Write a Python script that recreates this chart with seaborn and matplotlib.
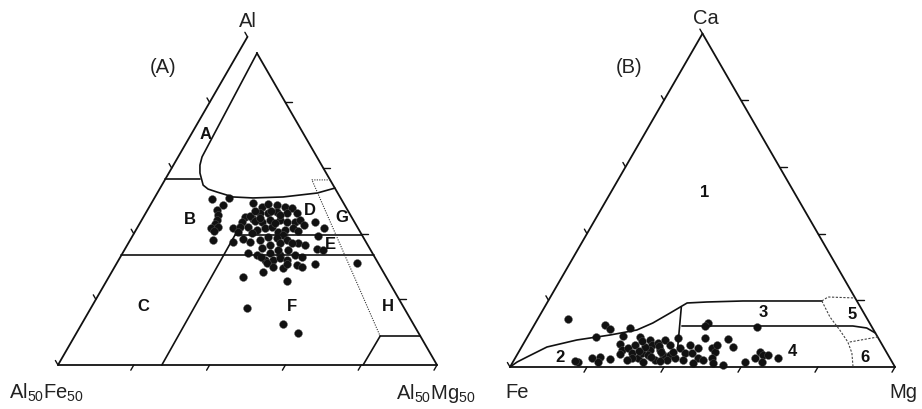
import numpy as np
import matplotlib
matplotlib.use("Agg")
import matplotlib.pyplot as plt
import seaborn as sns
import pandas as pd

sns.set_theme(style="white")
plt.rcParams["font.family"] = ["Liberation Sans", "DejaVu Sans"]
plt.rcParams["mathtext.default"] = "regular"

INK = "#111111"
S3 = np.sqrt(3) / 2

# ---------------------------------------------------------------------------
# Panel (A): Al - Al50Fe50 - Al50Mg50 sub-triangle.
# Values are percentages of the plotted triangle: top (Al) and right (Mg) share.
# ---------------------------------------------------------------------------
a_al = [50.6, 50.9, 48.8, 47.2, 45.7, 44.2, 43.0, 41.7, 42.0, 40.8, 38.1,
        49.4, 48.1, 49.1, 48.8, 48.1, 47.8, 46.3, 46.3, 46.6, 46.3, 46.3,
        45.1, 44.5, 43.6, 44.2, 44.2, 43.6, 43.6, 44.2, 43.6, 43.6, 41.7,
        42.0, 42.0, 41.1, 41.7, 42.0, 40.5, 41.1, 41.7, 41.7, 40.5, 40.2,
        39.6, 38.7, 38.1, 37.2, 36.6, 39.3, 37.5, 37.5, 38.1, 36.6, 37.2,
        35.6, 35.0, 35.3, 35.0, 34.1, 33.5, 34.1, 33.5, 33.5, 32.9, 32.0,
        32.0, 32.6, 32.0, 30.5, 29.9, 30.8, 31.1, 29.9, 28.3, 31.1, 26.8,
        25.6, 17.4, 12.5, 9.8,
        45.7, 45.4, 43.9, 43.3, 40.8, 37.2, 29.6, 47.0, 39.0, 35.0, 30.8,
        42.8, 46.9, 44.8, 38.5, 33.0]
a_mg = [15.3, 19.6, 19.1, 18.4, 19.3, 19.9, 19.9, 19.5, 21.2, 20.8, 21.8,
        26.8, 29.7, 30.8, 33.4, 35.8, 37.9, 30.1, 32.2, 34.5, 37.2, 39.9,
        26.7, 29.2, 32.0, 33.8, 36.5, 38.6, 40.7, 41.8, 46.0, 26.8, 25.3,
        27.0, 29.1, 31.9, 33.7, 35.5, 37.8, 39.3, 41.1, 49.3, 27.2, 31.1,
        39.6, 38.4, 41.3, 44.7, 46.9, 48.9, 27.4, 31.9, 34.2, 37.6, 40.0,
        36.0, 43.2, 50.7, 52.4, 33.0, 35.7, 38.8, 41.8, 45.7, 47.9, 38.6,
        40.7, 42.3, 44.4, 47.8, 49.4, 52.4, 39.6, 41.7, 39.9, 63.3, 35.4,
        47.6, 41.2, 53.1, 58.4,
        35.7, 28.0, 30.0, 35.6, 42.9, 43.2, 44.6, 32.8, 36.0, 40.5, 45.0,
        43.5, 28.5, 31.0, 29.5, 37.0]

# field boundaries of panel (A), as (Al, Mg) pairs
a_bound_curve = [(95.1, 5.0), (63.4, 6.3), (60.9, 7.0), (58.5, 8.2), (54.8, 10.9),
                 (53.6, 12.8), (52.7, 15.6), (51.2, 20.6), (50.9, 26.0),
                 (51.2, 33.8), (52.4, 42.2), (53.9, 46.1)]
a_bound_ab = [(56.7, 0.0), (56.7, 9.0)]
a_bound_bc = [(33.5, 0.0), (33.5, 66.5)]
a_bound_de = [(39.6, 26.9), (39.6, 60.4)]
a_bound_cf = [(0.0, 27.4), (39.6, 26.9)]
a_bound_h = [(8.8, 80.6), (8.8, 91.2)]
a_bound_h2 = [(0.0, 80.5), (8.8, 80.6)]
a_bound_dotted = [(56.4, 43.6), (56.4, 38.8), (8.8, 80.6)]

a_labels = ["A", "B", "C", "D", "E", "F", "G", "H"]
a_label_al = [70.1, 44.2, 17.7, 47.2, 36.6, 17.7, 44.8, 17.7]
a_label_mg = [3.8, 12.7, 13.6, 42.9, 53.5, 53.0, 52.5, 78.3]

# ---------------------------------------------------------------------------
# Panel (B): Ca - Fe - Mg.  Values: Ca (top) and Mg (right) percentages.
# ---------------------------------------------------------------------------
b_ca = [14.4, 12.6, 11.4, 11.7, 9.0, 9.3, 9.0, 1.5, 2.7, 3.0, 1.5, 2.4, 6.9,
        5.1, 3.9, 5.7, 4.2, 6.6, 2.7, 2.7, 4.2, 8.1, 6.6, 5.1, 3.6, 2.1, 7.2,
        5.1, 3.6, 8.1, 6.6, 3.6, 2.7, 4.5, 5.7, 8.7, 4.2, 2.1, 1.5, 2.1, 1.8,
        13.2, 12.3, 12.0, 8.7, 8.4, 6.0, 6.6, 2.1, 4.2, 5.7, 2.7, 2.1, 5.7,
        4.5, 6.6, 2.7, 1.2, 0.6, 1.5, 2.7, 4.5, 3.6, 3.6, 1.5, 2.7, 1.2, 6.0,
        4.8, 6.3, 3.0, 7.8, 1.8, 4.5]
b_mg = [7.9, 18.4, 20.3, 25.3, 17.8, 24.6, 29.3, 16.9, 19.9, 21.9, 22.1, 24.8,
        25.1, 26.5, 26.6, 27.7, 29.6, 29.2, 31.8, 30.3, 32.2, 32.3, 33.6, 33.8,
        34.0, 36.6, 34.8, 36.4, 37.9, 36.2, 38.3, 39.8, 41.5, 40.0, 41.2, 39.2,
        43.3, 39.7, 33.7, 29.3, 16.0, 44.8, 44.4, 58.1, 46.2, 52.4, 54.9, 43.4,
        43.8, 45.2, 45.9, 47.4, 49.0, 49.6, 50.9, 50.5, 51.1, 52.1, 55.0, 60.2,
        62.2, 62.6, 63.9, 65.2, 64.6, 68.2, 46.9, 32.1,
        31.0, 35.5, 35.2, 30.5, 38.0, 37.0]

# field boundaries of panel (B), as (Ca, Mg) pairs
b_bound_upper = [(0.0, 0.0), (1.5, 1.1), (3.0, 2.9), (6.0, 6.6), (8.1, 13.3),
                 (9.6, 21.2), (11.1, 27.4), (13.2, 30.5), (16.2, 33.5),
                 (19.2, 36.4), (19.5, 41.4), (19.8, 50.6), (19.8, 71.1)]
b_bound_34 = [(12.3, 38.5), (12.3, 82.9), (11.7, 86.8), (10.2, 89.8)]
b_bound_24 = [(18.0, 35.5), (5.7, 40.7)]
b_bound_5top = [(19.8, 71.1), (21.0, 72.1), (20.7, 79.3)]
b_bound_5left = [(19.8, 71.1), (15.0, 75.6), (11.1, 80.1), (7.5, 84.0),
                 (4.2, 86.7), (0.0, 89.1)]
b_bound_56 = [(7.5, 84.5), (9.0, 91.0)]

b_labels = ["1", "2", "3", "4", "5", "6"]
b_label_ca = [52.2, 2.7, 16.2, 4.5, 15.6, 2.7]
b_label_mg = [24.5, 11.6, 57.6, 71.2, 81.0, 90.8]

tick_levels = [20, 40, 60, 80]


def tern(top, right):
    top = np.asarray(top, float) / 100.0
    right = np.asarray(right, float) / 100.0
    return right + top / 2.0, top * S3


def draw_path(ax, pairs, **kw):
    t, r = zip(*pairs)
    x, y = tern(t, r)
    style = dict(color=INK, lw=1.2, solid_capstyle="round", clip_on=False)
    style.update(kw)
    ax.plot(x, y, **style)


def draw_ticks(ax, width_px, left_levels, right_levels, bottom_levels):
    u = 1.0 / width_px
    for k in left_levels:
        x, y = tern(k, 0)
        ax.plot([x, x - 2.6 * u], [y, y + 4.5 * u], color=INK, lw=1.0, clip_on=False)
    for k in right_levels:
        x, y = tern(k, 100 - k)
        ax.plot([x, x + 7 * u], [y, y], color=INK, lw=1.0, clip_on=False)
    for k in bottom_levels:
        x, y = tern(0, k)
        ax.plot([x, x - 3 * u], [y, y - 5.2 * u], color=INK, lw=1.0, clip_on=False)


def setup(ax):
    ax.set_xlim(0, 1)
    ax.set_ylim(0, S3)
    ax.set_axis_off()


fig = plt.figure(figsize=(9.22, 4.09), dpi=100)
W, H = 922.0, 409.0

# ---------------------------- panel (A) -------------------------------------
axA = fig.add_axes([58 / W, 44 / H, 379 / W, 328.2 / H])
setup(axA)
draw_path(axA, [(0, 0), (100, 0)], lw=1.3)                 # left edge
draw_path(axA, [(95.1, 4.9), (0, 100)], lw=1.3)            # right edge
draw_path(axA, [(0, 0), (0, 100)], lw=1.3)                 # base
draw_path(axA, a_bound_curve)
draw_path(axA, a_bound_ab)
draw_path(axA, a_bound_bc)
draw_path(axA, a_bound_de)
draw_path(axA, a_bound_cf)
draw_path(axA, a_bound_h)
draw_path(axA, a_bound_h2)
draw_path(axA, a_bound_dotted, lw=0.8, linestyle=(0, (1.0, 1.2)), color="#333333")
draw_ticks(axA, 379, [0] + tick_levels + [100], tick_levels, tick_levels + [100])

xa, ya = tern(a_al, a_mg)
sns.scatterplot(data=pd.DataFrame({"x": xa, "y": ya}), x="x", y="y", ax=axA,
                s=32, color=INK, edgecolor="#555555", linewidth=0.3,
                clip_on=False, legend=False)
setup(axA)

for lab, t, r in zip(a_labels, a_label_al, a_label_mg):
    x, y = tern(t, r)
    axA.text(x, y, lab, ha="center", va="center", fontsize=12,
             fontweight="bold", color=INK)

axA.annotate("Al", xy=tern(100, 0), xytext=(0, 10), textcoords="offset pixels",
             ha="center", va="baseline", fontsize=14.5, color="#222222")
axA.annotate("Al$_{50}$Fe$_{50}$", xy=tern(0, 0), xytext=(-11, -34),
             textcoords="offset pixels", ha="center", va="baseline",
             fontsize=14.5, color="#222222")
axA.annotate("Al$_{50}$Mg$_{50}$", xy=tern(0, 100), xytext=(-1, -34),
             textcoords="offset pixels", ha="center", va="baseline",
             fontsize=14.5, color="#222222")
axA.text(0.277, 0.784, "(A)", ha="center", va="center", fontsize=14.5,
         color="#222222")

# ---------------------------- panel (B) -------------------------------------
axB = fig.add_axes([510 / W, 42 / H, 385 / W, 333.4 / H])
setup(axB)
draw_path(axB, [(0, 0), (100, 0)], lw=1.3)
draw_path(axB, [(100, 0), (0, 100)], lw=1.3)
draw_path(axB, [(0, 0), (0, 100)], lw=1.3)
draw_path(axB, b_bound_upper)
draw_path(axB, b_bound_34)
draw_path(axB, b_bound_24)
dash = dict(lw=0.8, linestyle=(0, (2.0, 1.4)), color="#444444")
draw_path(axB, b_bound_5top, **dash)
draw_path(axB, b_bound_5left, **dash)
draw_path(axB, b_bound_56, **dash)
draw_ticks(axB, 385, [0] + tick_levels + [100], tick_levels, tick_levels + [100])

xb, yb = tern(b_ca, b_mg)
sns.scatterplot(data=pd.DataFrame({"x": xb, "y": yb}), x="x", y="y", ax=axB,
                s=32, color=INK, edgecolor="#555555", linewidth=0.3,
                clip_on=False, legend=False)
setup(axB)

for lab, t, r in zip(b_labels, b_label_ca, b_label_mg):
    x, y = tern(t, r)
    axB.text(x, y, lab, ha="center", va="center", fontsize=12,
             fontweight="bold", color=INK)

axB.annotate("Ca", xy=tern(100, 0), xytext=(3, 10), textcoords="offset pixels",
             ha="center", va="baseline", fontsize=14.5, color="#222222")
axB.annotate("Fe", xy=tern(0, 0), xytext=(7, -31), textcoords="offset pixels",
             ha="center", va="baseline", fontsize=14.5, color="#222222")
axB.annotate("Mg", xy=tern(0, 100), xytext=(8, -31), textcoords="offset pixels",
             ha="center", va="baseline", fontsize=14.5, color="#222222")
axB.text(0.309, 0.777, "(B)", ha="center", va="center", fontsize=14.5,
         color="#222222")

fig.savefig("out.png", dpi=100, facecolor="white")
